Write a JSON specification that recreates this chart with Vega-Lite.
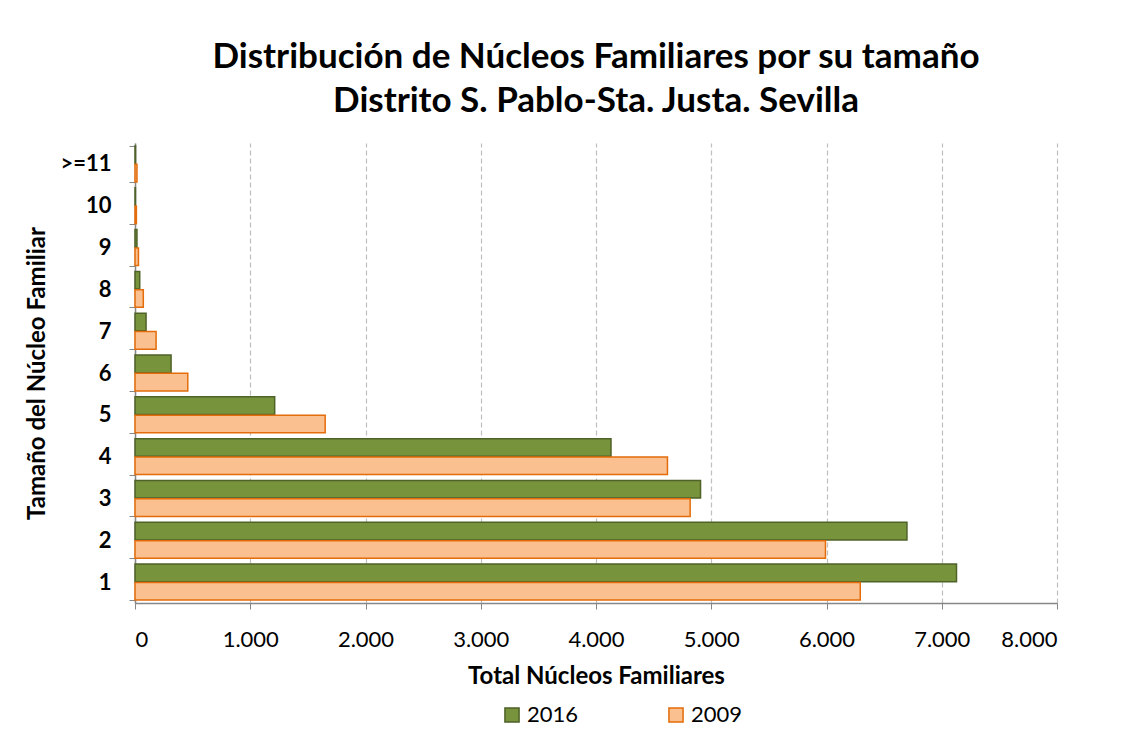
{
  "$schema": "https://vega.github.io/schema/vega-lite/v6.json",
  "width": 922,
  "height": 460,
  "padding": {"left": 25, "top": 40, "right": 10, "bottom": 5},
  "background": "white",
  "config": {"view": {"stroke": null}, "font": "Lato"},
  "title": {
    "text": ["Distribución de Núcleos Familiares por su tamaño", "Distrito S. Pablo-Sta. Justa. Sevilla"],
    "font": "Lato",
    "fontSize": 35,
    "fontWeight": "bold",
    "color": "black",
    "lineHeight": 44,
    "anchor": "middle",
    "offset": 13
  },
  "data": {
    "values": [
      {"size": "1", "year": "2016", "value": 7128},
      {"size": "1", "year": "2009", "value": 6293},
      {"size": "2", "year": "2016", "value": 6698},
      {"size": "2", "year": "2009", "value": 5991},
      {"size": "3", "year": "2016", "value": 4907},
      {"size": "3", "year": "2009", "value": 4817},
      {"size": "4", "year": "2016", "value": 4130},
      {"size": "4", "year": "2009", "value": 4620},
      {"size": "5", "year": "2016", "value": 1212},
      {"size": "5", "year": "2009", "value": 1650},
      {"size": "6", "year": "2016", "value": 313},
      {"size": "6", "year": "2009", "value": 458},
      {"size": "7", "year": "2016", "value": 96},
      {"size": "7", "year": "2009", "value": 183},
      {"size": "8", "year": "2016", "value": 41},
      {"size": "8", "year": "2009", "value": 72},
      {"size": "9", "year": "2016", "value": 17},
      {"size": "9", "year": "2009", "value": 30},
      {"size": "10", "year": "2016", "value": 4},
      {"size": "10", "year": "2009", "value": 12},
      {"size": ">=11", "year": "2016", "value": 5},
      {"size": ">=11", "year": "2009", "value": 17}
    ]
  },
  "mark": {"type": "bar", "strokeWidth": 1.5},
  "encoding": {
    "y": {
      "field": "size",
      "type": "nominal",
      "sort": [">=11", "10", "9", "8", "7", "6", "5", "4", "3", "2", "1"],
      "scale": {"paddingInner": 0.14, "paddingOuter": 0.07},
      "axis": {
        "title": "Tamaño del Núcleo Familiar",
        "titleFont": "Lato",
        "titleFontSize": 24,
        "titleFontWeight": "bold",
        "titleColor": "black",
        "titlePadding": 10,
        "labelFont": "Lato",
        "labelFontSize": 22,
        "labelFontWeight": "bold",
        "labelColor": "black",
        "labelPadding": 18,
        "tickBand": "extent",
        "tickSize": 6,
        "tickColor": "#868686",
        "domainColor": "#868686",
        "domainWidth": 1.5,
        "grid": false
      }
    },
    "yOffset": {
      "field": "year",
      "sort": ["2016", "2009"],
      "scale": {"domain": ["2016", "2009"], "paddingInner": 0.04}
    },
    "x": {
      "field": "value",
      "type": "quantitative",
      "scale": {"domain": [0, 8000]},
      "axis": {
        "title": "Total Núcleos Familiares",
        "titleFont": "Lato",
        "titleFontSize": 24,
        "titleFontWeight": "bold",
        "titleColor": "black",
        "titlePadding": 14,
        "values": [0, 1000, 2000, 3000, 4000, 5000, 6000, 7000, 8000],
        "labelExpr": "replace(format(datum.value, ','), ',', '.')",
        "labelFont": "Lato",
        "labelFontSize": 22,
        "labelColor": "black",
        "labelPadding": 20,
        "tickSize": 6,
        "tickColor": "#868686",
        "domainColor": "#868686",
        "domainWidth": 1.5,
        "grid": true,
        "gridColor": "#BFBFBF",
        "gridDash": [5, 3],
        "gridWidth": 1.2
      }
    },
    "fill": {
      "field": "year",
      "type": "nominal",
      "scale": {"domain": ["2016", "2009"], "range": ["#77933C", "#FAC090"]},
      "legend": {
        "title": null,
        "orient": "none",
        "legendX": 366,
        "legendY": 561,
        "direction": "horizontal",
        "symbolType": "square",
        "symbolSize": 200,
        "symbolStrokeWidth": 1.5,
        "labelFont": "Lato",
        "labelFontSize": 22,
        "labelColor": "black",
        "columnPadding": 86
      }
    },
    "stroke": {
      "field": "year",
      "type": "nominal",
      "scale": {"domain": ["2016", "2009"], "range": ["#4F6228", "#E46C0A"]}
    }
  }
}
